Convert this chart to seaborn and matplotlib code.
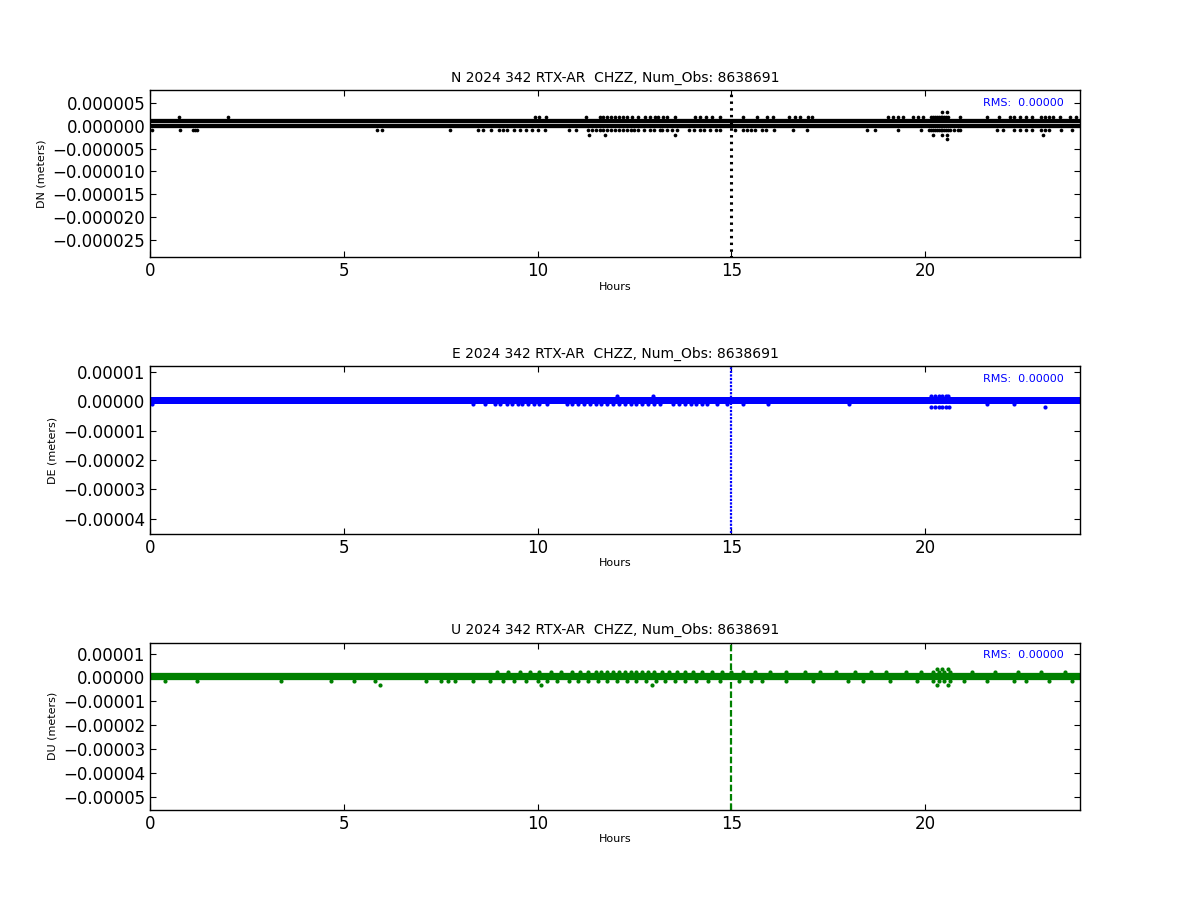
import numpy as np
import pandas as pd
import matplotlib.pyplot as plt
import matplotlib.ticker as mticker
import seaborn as sns

# --- data (hours, meters) ---
hours_span = [0, 24]
spike_hour = [15.0, 15.0]
title_tail = "2024 342 RTX-AR  CHZZ, Num_Obs: 8638691"
rms_text = "RMS:  0.00000"

# N component
n_band_levels = [0.0, 1e-6]
n_up2_hours = [0.76, 2.0, 9.94, 10.04, 10.22, 11.25, 11.6, 11.7, 11.8, 11.9, 12.0, 12.1,
               12.2, 12.3, 12.45, 12.6, 12.77, 12.9, 13.03, 13.1, 13.24, 13.33, 13.55,
               14.06, 14.19, 14.35, 14.5, 14.71, 15.3, 15.66, 15.92, 16.08, 16.5, 16.65,
               16.77, 16.98, 17.08, 19.05, 19.17, 19.3, 19.43, 19.69, 19.82, 19.95, 20.15,
               20.2, 20.25, 20.3, 20.35, 20.4, 20.45, 20.5, 20.55, 20.6, 20.9, 21.6, 21.9,
               22.2, 22.3, 22.45, 22.6, 22.76, 23.0, 23.1, 23.2, 23.3, 23.48, 23.74, 23.9]
n_dn1_hours = [0.04, 0.77, 1.1, 1.15, 1.2, 5.86, 5.98, 7.74, 8.46, 8.6, 8.8, 9.0, 9.1, 9.2,
               9.4, 9.55, 9.7, 9.85, 10.0, 10.2, 10.8, 11.0, 11.3, 11.4, 11.5, 11.6, 11.7,
               11.8, 11.9, 12.0, 12.1, 12.2, 12.3, 12.4, 12.5, 12.6, 12.75, 12.9, 13.0,
               13.16, 13.2, 13.33, 13.46, 13.6, 13.9, 14.05, 14.2, 14.3, 14.45, 14.6, 14.7,
               15.1, 15.3, 15.4, 15.5, 15.6, 15.8, 15.9, 16.1, 16.6, 16.95, 18.5, 18.7,
               19.3, 19.9, 20.1, 20.15, 20.2, 20.25, 20.3, 20.35, 20.4, 20.45, 20.5, 20.55,
               20.6, 20.65, 20.75, 20.85, 20.9, 21.85, 22.0, 22.3, 22.45, 22.6, 22.76, 23.0,
               23.1, 23.2, 23.5, 23.8]
n_dn2_hours = [11.33, 11.74, 13.55, 20.2, 20.45, 20.57, 23.05]
n_up3_hours = [20.45, 20.57]
n_dn3_hours = [20.57]
n_spike = [-2.9e-5, 7.5e-6]

# E component
e_band_levels = [0.0, 1e-6]
e_dn1_hours = [0.05, 8.34, 8.65, 8.9, 9.03, 9.2, 9.35, 9.5, 9.6, 9.75, 9.9, 10.05, 10.24,
               10.75, 10.9, 11.05, 11.2, 11.35, 11.5, 11.65, 11.8, 11.95, 12.1, 12.25, 12.4,
               12.55, 12.7, 12.85, 13.0, 13.16, 13.5, 13.65, 13.8, 13.95, 14.1, 14.25, 14.37,
               14.62, 14.88, 15.31, 15.96, 18.03, 21.6, 22.29]
e_up2_hours = [12.04, 12.97, 20.15, 20.25, 20.35, 20.45, 20.55, 20.6]
e_dn2_hours = [20.15, 20.25, 20.35, 20.45, 20.55, 20.61, 23.09]
e_spike = [-4.5e-5, 1.2e-5]

# U component
u_band_levels = [0.0, 1e-6]
u_up_hours = [8.95, 9.25, 9.55, 9.8, 10.05, 10.35, 10.6, 10.9, 11.1, 11.3, 11.5, 11.65,
              11.8, 11.95, 12.1, 12.25, 12.4, 12.55, 12.7, 12.85, 13.0, 13.2, 13.4, 13.6,
              13.8, 14.0, 14.25, 14.5, 14.75, 15.0, 15.3, 15.6, 16.0, 16.4, 16.9, 17.3,
              17.7, 18.2, 18.6, 19.0, 19.5, 19.9, 20.2, 20.35, 20.5, 20.65, 21.2, 21.8,
              22.4, 23.0, 23.6]
u_dn_hours = [0.38, 1.22, 3.39, 4.66, 5.26, 5.8, 7.13, 7.52, 7.7, 7.86, 8.34, 8.77, 9.1,
              9.4, 9.7, 10.0, 10.25, 10.5, 10.8, 11.05, 11.3, 11.55, 11.8, 12.05, 12.3,
              12.55, 12.8, 13.05, 13.3, 13.55, 13.8, 14.1, 14.4, 14.7, 15.2, 15.5, 15.8,
              16.4, 17.1, 18.0, 18.4, 19.1, 19.8, 20.2, 20.35, 20.5, 20.65, 21.0, 21.6,
              22.3, 22.6, 23.2, 23.8]
u_dn3_hours = [5.93, 10.1, 12.95, 20.3, 20.6]
u_up4_hours = [20.3, 20.45, 20.6]
u_spike = [-5.55e-5, 1.46e-5]

panels = [
    dict(name="N", ylabel="DN (meters)", color="k", levels=n_band_levels,
         outliers=[(n_up2_hours, 2e-6), (n_dn1_hours, -1e-6), (n_dn2_hours, -2e-6),
                   (n_up3_hours, 3e-6), (n_dn3_hours, -3e-6)],
         spike=n_spike, ylim=(-2.88e-5, 7.8e-6), yticks=np.arange(-2.5e-5, 0.6e-5, 5e-6),
         fmt="%.6f", band_lw=3.1, dot=7, spike_ls=(0, (0.8, 1.4)), spike_lw=2.2),
    dict(name="E", ylabel="DE (meters)", color="b", levels=e_band_levels,
         outliers=[(e_dn1_hours, -1e-6), (e_up2_hours, 2e-6), (e_dn2_hours, -2e-6)],
         spike=e_spike, ylim=(-4.51e-5, 1.2e-5), yticks=np.arange(-4e-5, 1.1e-5, 1e-5),
         fmt="%.5f", band_lw=3.6, dot=9, spike_ls=(0, (1, 0.6)), spike_lw=1.6),
    dict(name="U", ylabel="DU (meters)", color="g", levels=u_band_levels,
         outliers=[(u_up_hours, 2.2e-6), (u_dn_hours, -1.6e-6), (u_dn3_hours, -3e-6),
                   (u_up4_hours, 3.5e-6)],
         spike=u_spike, ylim=(-5.55e-5, 1.46e-5), yticks=np.arange(-5e-5, 1.1e-5, 1e-5),
         fmt="%.5f", band_lw=3.8, dot=9, spike_ls=(0, (3, 1.2)), spike_lw=1.6),
]

plt.rcParams.update({
    "figure.facecolor": "white",
    "font.family": "DejaVu Sans",
    "font.size": 12,
    "axes.linewidth": 1.0,
    "xtick.direction": "in",
    "ytick.direction": "in",
    "xtick.top": True,
    "ytick.right": True,
    "xtick.major.size": 4,
    "ytick.major.size": 4,
    "xtick.labelsize": 12,
    "ytick.labelsize": 12,
})

fig, axes = plt.subplots(3, 1, figsize=(12, 9), dpi=100)
fig.subplots_adjust(left=0.125, right=0.9, top=0.9, bottom=0.1, hspace=0.65)

for ax, p in zip(axes, panels):
    c = p["color"]
    for lvl in p["levels"]:
        sns.lineplot(x=hours_span, y=[lvl, lvl], color=c, linewidth=p["band_lw"],
                     estimator=None, sort=False, ax=ax, legend=False)
    rows = []
    for hrs, val in p["outliers"]:
        rows += [(h, val) for h in hrs]
    df = pd.DataFrame(rows, columns=["hour", "d"])
    sns.scatterplot(data=df, x="hour", y="d", color=c, s=p["dot"], linewidth=0,
                    ax=ax, legend=False)
    sns.lineplot(x=spike_hour, y=p["spike"], color=c, linewidth=p["spike_lw"],
                 linestyle=p["spike_ls"], estimator=None, sort=False, ax=ax, legend=False)

    ax.set_xlim(0, 24)
    ax.set_ylim(*p["ylim"])
    ax.set_xticks([0, 5, 10, 15, 20])
    ax.set_yticks(p["yticks"])
    fmt = p["fmt"]
    ax.yaxis.set_major_formatter(mticker.FuncFormatter(
        lambda v, pos, f=fmt: (f % v).replace("-", "\u2212") if abs(v) > 1e-12 else f % 0))
    ax.set_title(f"{p['name']} {title_tail}", fontsize=10)
    ax.set_xlabel("Hours", fontsize=8, labelpad=1)
    ax.set_ylabel(p["ylabel"], fontsize=8)
    ax.text(0.982, 0.925, rms_text, color="b", fontsize=8, ha="right", va="center",
            transform=ax.transAxes)
    ax.grid(False)

fig.savefig("out.png", dpi=100, facecolor="white")
